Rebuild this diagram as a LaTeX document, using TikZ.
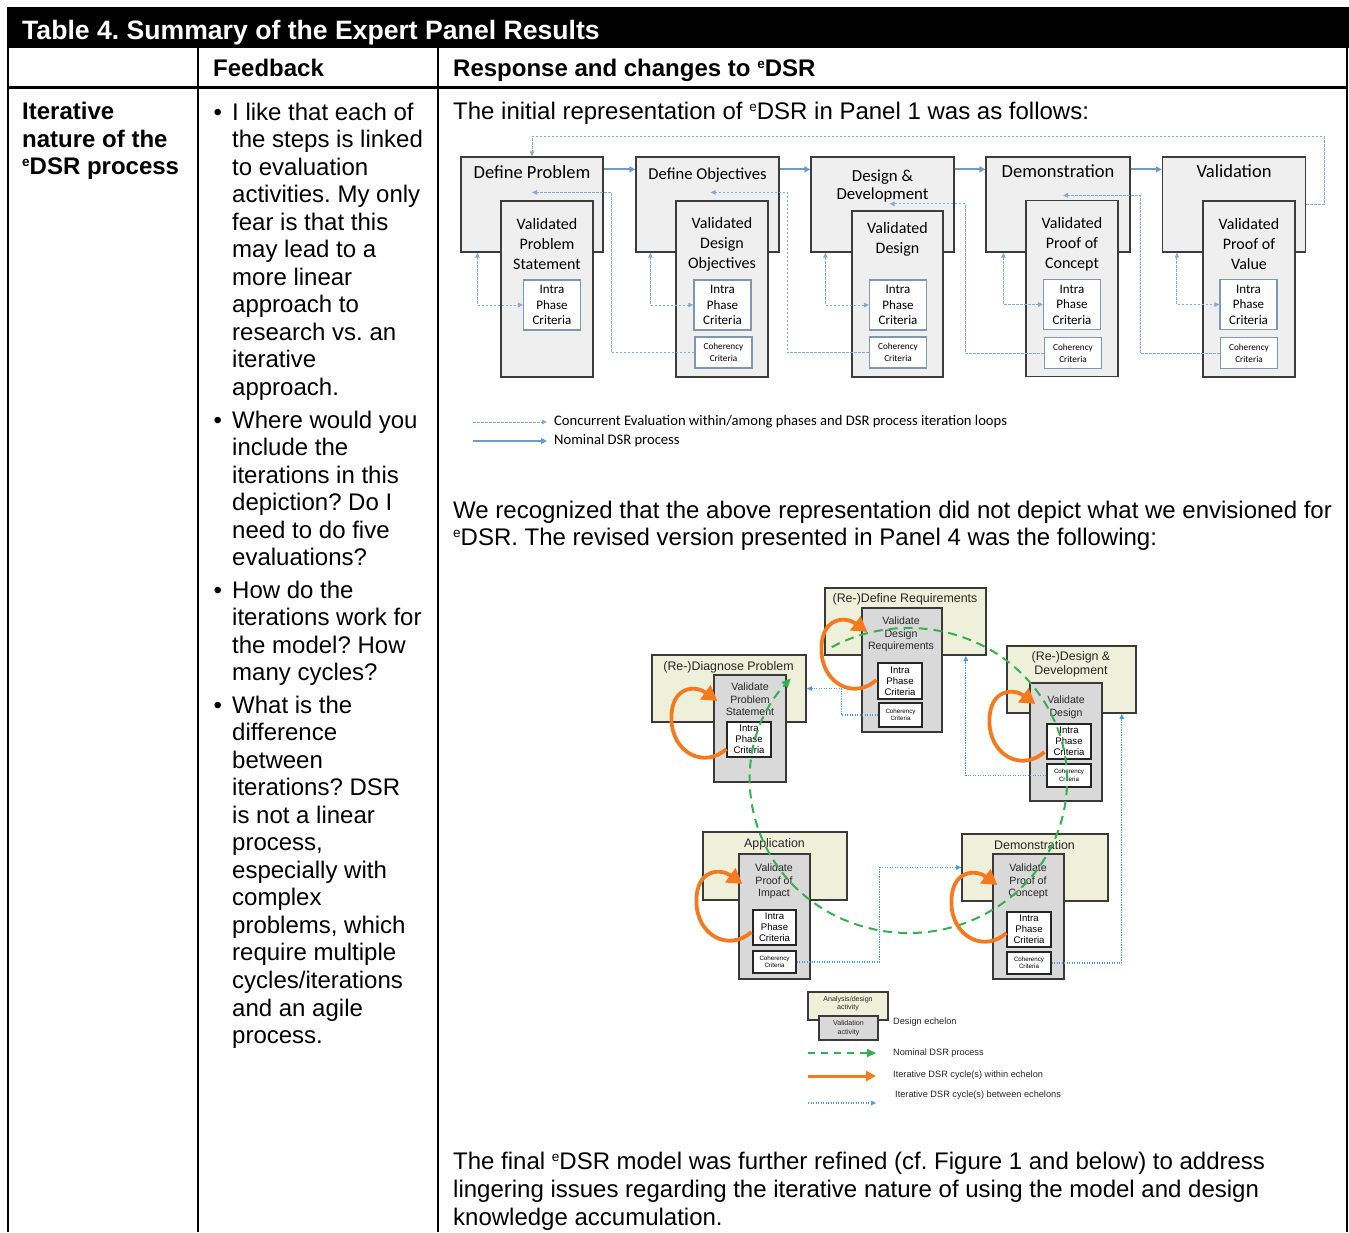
\documentclass[tikz,border=0pt]{standalone}
\usepackage{fontspec}
\setmainfont{Liberation Sans}
\newfontfamily\calfont{Carlito}
\usetikzlibrary{arrows.meta,calc}
\frenchspacing

\definecolor{tfill}{HTML}{EFEFEF}
\definecolor{tline}{HTML}{3C3C3C}
\definecolor{tcrit}{HTML}{7F97B2}
\definecolor{tblue}{HTML}{6E9BCB}
\definecolor{tdot}{HTML}{86AAD2}
\definecolor{efill}{HTML}{EEF0DA}
\definecolor{vfill}{HTML}{D9D9D9}
\definecolor{eline}{HTML}{3A3A3A}
\definecolor{ngreen}{HTML}{35B04C}
\definecolor{iorange}{HTML}{F57A1F}
\definecolor{bdotc}{HTML}{4A9FDC}

% small raised "e" of eDSR
\newcommand\esup{{\fontsize{13.5}{13.5}\selectfont\raisebox{8pt}{e}}}

\begin{document}
\begin{tikzpicture}[x=1pt,y=-1pt,
  body/.style={inner sep=0pt,anchor=base west,font=\fontsize{24}{27.55}\selectfont},
  bodyb/.style={inner sep=0pt,anchor=base west,font=\bfseries\fontsize{24}{27.55}\selectfont},
  rule/.style={line width=2pt,black},
  tbox/.style={draw=tline,fill=tfill,line width=1.3pt,inner sep=0pt},
  tcritb/.style={draw=tcrit,fill=white,line width=1.1pt,inner sep=0pt,align=center},
  ttl/.style={inner sep=0pt,align=center,font=\calfont\fontsize{18.5}{18.5}\selectfont},
  tval/.style={inner sep=0pt,align=center,font=\calfont\fontsize{16}{20}\selectfont},
  tintra/.style={tcritb,minimum width=57pt,minimum height=50pt,font=\calfont\fontsize{13}{15.5}\selectfont},
  tcoh/.style={tcritb,minimum width=57pt,minimum height=31pt,font=\calfont\fontsize{9.2}{12}\selectfont},
  tflow/.style={draw=tblue,line width=1.8pt,-{Triangle[length=6pt,width=6pt]}},
  tdash/.style={draw=tdot,line width=1pt,dash pattern=on 2.5pt off 1.5pt},
  tarr/.style={-{Triangle[length=5pt,width=4.5pt]}},
  tarrs/.style={{Triangle[length=5pt,width=4.5pt]}-{Triangle[length=5pt,width=4.5pt]}},
  tleg/.style={inner sep=0pt,anchor=west,font=\calfont\fontsize{14.6}{16}\selectfont},
  ebox/.style={draw=eline,fill=efill,line width=1.7pt,inner sep=0pt},
  vbox/.style={draw=eline,fill=vfill,line width=1.7pt,inner sep=0pt,align=center},
  etl/.style={inner sep=0pt,align=center,font=\fontsize{12.4}{14}\selectfont,text=black!85},
  eval/.style={inner sep=0pt,align=center,font=\fontsize{10.6}{12.5}\selectfont,text=black!85},
  lintra/.style={draw=black!85,fill=white,line width=1.2pt,inner sep=0pt,align=center,font=\fontsize{9.6}{11}\selectfont},
  lcoh/.style={lintra,font=\fontsize{6.2}{7.5}\selectfont},
  bdot/.style={draw=bdotc,line width=1.2pt,dash pattern=on 1.3pt off 1.2pt,-{Triangle[length=5pt,width=4.5pt]}},
  gdash/.style={draw=ngreen,line width=2pt,dash pattern=on 9pt off 6pt,-{Triangle[length=9pt,width=8pt]}},
  oloop/.style={draw=iorange,line width=3.8pt,-{Triangle[length=15pt,width=17pt]}},
  lleg/.style={inner sep=0pt,anchor=west,font=\fontsize{9.2}{11}\selectfont,text=black!85}
]
\useasboundingbox (0,0) rectangle (1349,1232);

% ---------- table frame ----------
\fill[black] (7,7) rectangle (1349,48);
\node[inner sep=0pt,anchor=base west,text=white,font=\bfseries\fontsize{26.6}{30}\selectfont] (title) at (22,39) {Table 4. Summary of the Expert Panel Results};
\draw[rule] (8,48) -- (8,1232);
\draw[rule] (198,48) -- (198,1232);
\draw[rule] (438,48) -- (438,1232);
\draw[rule] (1347,48) -- (1347,1232);
\draw[line width=3pt] (7,87.5) -- (1348,87.5);

\node[bodyb] (hfb) at (213,76) {Feedback};
\node[bodyb] (hrs) at (453,76) {Response and changes to \esup DSR};

\node[bodyb] (rl1) at (22,119) {Iterative};
\node[bodyb] (rl2) at (22,147) {nature of the};
\node[bodyb] (rl3) at (22,174) {\esup DSR process};

% ---------- feedback column ----------
\node[body] (bu1) at (213.5,120) {•};
\foreach \fl [count=\i from 0] in {{I like that each of},{the steps is linked},{to evaluation},{activities. My only},{fear is that this},{may lead to a},{more linear},{approach to},{research vs. an},{iterative},{approach.}}
  \node[body] (fa\i) at (232,120+27.55*\i) {\fl};
\node[body] (bu2) at (213.5,428) {•};
\foreach \fl [count=\i from 0] in {{Where would you},{include the},{iterations in this},{depiction? Do I},{need to do five},{evaluations?}}
  \node[body] (fb\i) at (232,428+27.55*\i) {\fl};
\node[body] (bu3) at (213.5,598) {•};
\foreach \fl [count=\i from 0] in {{How do the},{iterations work for},{the model? How},{many cycles?}}
  \node[body] (fc\i) at (232,598+27.55*\i) {\fl};
\node[body] (bu4) at (213.5,713) {•};
\foreach \fl [count=\i from 0] in {{What is the},{difference},{between},{iterations? DSR},{is not a linear},{process,},{especially with},{complex},{problems, which},{require multiple},{cycles/iterations},{and an agile},{process.}}
  \node[body] (fd\i) at (232,713+27.55*\i) {\fl};

% ---------- response column text ----------
\node[body] (r1) at (453,119) {The initial representation of \esup DSR in Panel 1 was as follows:};
\node[body] (r2) at (453,518) {We recognized that the above representation did not depict what we envisioned for};
\node[body] (r3) at (453,545) {\esup DSR. The revised version presented in Panel 4 was the following:};
\node[body] (r4) at (453,1169) {The final \esup DSR model was further refined (cf. Figure 1 and below) to address};
\node[body] (r5) at (453,1197) {lingering issues regarding the iterative nature of using the model and design};
\node[body] (r6) at (453,1225) {knowledge accumulation.};

% ---------- Panel 1: linear phases ----------
\node[tbox,minimum width=142pt,minimum height=95pt] (p1) at (532,204.5) {};
\node[tbox,minimum width=143pt,minimum height=95pt] (p2) at (707.5,204.5) {};
\node[tbox,minimum width=143pt,minimum height=95pt] (p3) at (882.5,204.5) {};
\node[tbox,minimum width=144pt,minimum height=95pt] (p4) at (1058,204.5) {};
\node[tbox,minimum width=143pt,minimum height=95pt] (p5) at (1234,204.5) {};

\node[ttl] (p1t) at (532,172) {Define Problem};
\node[ttl,font=\calfont\fontsize{16.6}{18.5}\selectfont] (p2t) at (707.5,175) {Define Objectives};
\node[ttl,font=\calfont\fontsize{16.8}{18.5}\selectfont] (p3t) at (882.5,186) {Design \&\\Development};
\node[ttl] (p4t) at (1058,171) {Demonstration};
\node[ttl] (p5t) at (1234,171) {Validation};

\node[tbox,minimum width=92pt,minimum height=176pt] (v1) at (547,289) {};
\node[tbox,minimum width=92pt,minimum height=176pt] (v2) at (722,289) {};
\node[tbox,minimum width=91pt,minimum height=166pt] (v3) at (897.5,294) {};
\node[tbox,minimum width=92pt,minimum height=176pt] (v4) at (1072,288.5) {};
\node[tbox,minimum width=92pt,minimum height=176pt] (v5) at (1249,289) {};

\node[tval] (v1t) at (547,244) {Validated\\Problem\\Statement};
\node[tval] (v2t) at (722,244) {Validated\\Design\\Objectives};
\node[tval] (v3t) at (897.5,239) {Validated\\Design};
\node[tval] (v4t) at (1072,244) {Validated\\Proof of\\Concept};
\node[tval] (v5t) at (1249,244) {Validated\\Proof of\\Value};

\node[tintra] (i1) at (552,305) {Intra\\Phase\\Criteria};
\node[tintra] (i2) at (722.5,305) {Intra\\Phase\\Criteria};
\node[tintra] (i3) at (898,305) {Intra\\Phase\\Criteria};
\node[tintra] (i4) at (1072,304.5) {Intra\\Phase\\Criteria};
\node[tintra] (i5) at (1248.5,304.5) {Intra\\Phase\\Criteria};

\node[tcoh] (c2) at (723.5,352.5) {Coherency\\Criteria};
\node[tcoh] (c3) at (898,352.5) {Coherency\\Criteria};
\node[tcoh] (c4) at (1073,353) {Coherency\\Criteria};
\node[tcoh] (c5) at (1249,353) {Coherency\\Criteria};

% nominal flow
\draw[tflow] ([yshift=-13pt]p1.north east) -- ([yshift=-13pt]p2.north west);
\draw[tflow] ([yshift=-13pt]p2.north east) -- ([yshift=-13pt]p3.north west);
\draw[tflow] ([yshift=-13pt]p3.north east) -- ([yshift=-13pt]p4.north west);
\draw[tflow] ([yshift=-13pt]p4.north east) -- ([yshift=-13pt]p5.north west);

% iteration loop back to the start
\draw[tdash,tarr] (p5.east) -- ++(18,0) |- ($(p1.north)+(0,-20)$) -- (p1.north);

% intra-phase evaluation
\draw[tdash,tarrs] ($(p1.south west)+(17,0)$) |- (i1.west);
\draw[tdash,tarrs] ($(p2.south west)+(15,0)$) |- (i2.west);
\draw[tdash,tarrs] ($(p3.south west)+(15,0)$) |- (i3.west);
\draw[tdash,tarrs] ($(p4.south west)+(18,0)$) |- (i4.west);
\draw[tdash,tarrs] ($(p5.south west)+(15,0)$) |- (i5.west);

% coherency feedback to the previous phase
\draw[tdash,tarr] (c2.west) -- ++(-83,0) |- ($(p1.north)+(0,36)$);
\draw[tdash,tarr] (c3.west) -- ++(-81.5,0) |- ($(p2.north)+(3,36)$);
\draw[tdash,tarr] (c4.west) -- ++(-78.5,0) |- ($(p3.north)+(7,47.5)$);
\draw[tdash,tarr] (c5.west) -- ++(-79.5,0) |- ($(p4.north)+(5,39)$);

% legend
\coordinate (la1) at (473,422);
\coordinate (la2) at (547,422);
\draw[tdash,tarr] (la1) -- (la2);
\node[tleg] (lat) at (554,422) {Concurrent Evaluation within/among phases and DSR process iteration loops};
\coordinate (lb1) at (473,441);
\coordinate (lb2) at (547,441);
\draw[tflow,line width=1.5pt] (lb1) -- (lb2);
\node[tleg] (lbt) at (554,441) {Nominal DSR process};

% ---------- Panel 4: design echelons ----------
\node[ebox,minimum width=161pt,minimum height=67pt] (e1) at (905.5,621.5) {};
\node[ebox,minimum width=154pt,minimum height=67pt] (e2) at (729,688.5) {};
\node[ebox,minimum width=129pt,minimum height=67pt] (e3) at (1071.5,679.5) {};
\node[ebox,minimum width=144pt,minimum height=68pt] (e4) at (775,866) {};
\node[ebox,minimum width=146pt,minimum height=67pt] (e5) at (1035,867.5) {};

\node[etl] (e1t) at (905,599) {(Re-)Define Requirements};
\node[etl] (e2t) at (728.5,667) {(Re-)Diagnose Problem};
\node[etl] (e3t) at (1071,664) {(Re-)Design \&\\Development};
\node[etl] (e4t) at (774.5,844) {Application};
\node[etl] (e5t) at (1034.5,845) {Demonstration};

\node[vbox,minimum width=80pt,minimum height=124pt] (w1) at (902,670) {};
\node[vbox,minimum width=72pt,minimum height=107pt] (w2) at (750,728.5) {};
\node[vbox,minimum width=72pt,minimum height=118pt] (w3) at (1066,742) {};
\node[vbox,minimum width=71pt,minimum height=125pt] (w4) at (774.5,916.5) {};
\node[vbox,minimum width=71pt,minimum height=125pt] (w5) at (1028.5,916.5) {};

\node[eval] (w1t) at (901,634.5) {Validate\\Design\\Requirements};
\node[eval] (w2t) at (750,699.5) {Validate\\Problem\\Statement};
\node[eval] (w3t) at (1066,707) {Validate\\Design};
\node[eval] (w4t) at (774,881.5) {Validate\\Proof of\\Impact};
\node[eval] (w5t) at (1028,881.5) {Validate\\Proof of\\Concept};

\node[lintra,minimum width=44pt,minimum height=36pt] (li1) at (900,681) {Intra\\Phase\\Criteria};
\node[lintra,minimum width=44pt,minimum height=35pt] (li2) at (749,739.5) {Intra\\Phase\\Criteria};
\node[lintra,minimum width=44pt,minimum height=35pt] (li3) at (1069,741.5) {Intra\\Phase\\Criteria};
\node[lintra,minimum width=43pt,minimum height=35pt] (li4) at (774.5,927.5) {Intra\\Phase\\Criteria};
\node[lintra,minimum width=44pt,minimum height=35pt] (li5) at (1029,929.5) {Intra\\Phase\\Criteria};

\node[lcoh,minimum width=43pt,minimum height=24pt] (lc1) at (900.5,715) {Coherency\\Criteria};
\node[lcoh,minimum width=44pt,minimum height=23pt] (lc3) at (1069,775.5) {Coherency\\Criteria};
\node[lcoh,minimum width=43pt,minimum height=22pt] (lc4) at (774.5,962) {Coherency\\Criteria};
\node[lcoh,minimum width=44pt,minimum height=22pt] (lc5) at (1029,963) {Coherency\\Criteria};

% iterations between echelons
\draw[bdot] (lc1.west) -- ++(-37,0) |- (e2.east);
\draw[bdot] (lc3.west) -| ($(e1.south east)+(-21,0)$);
\draw[bdot] (lc5.east) -| ($(e3.south east)+(-15,0)$);
\draw[bdot] (lc4.east) -- ++(83,0) |- (e5.west);

% nominal process around the echelons
\coordinate (gc) at (908.5,780.5);
\draw[gdash] ($(gc)+(-76.8,-133.4)$) arc[start angle=119,end angle=-222,x radius=158.5pt,y radius=152.5pt];

% iterations within each echelon
\draw[oloop] ($(li1.west)+(-1,-1)$) .. controls +(-22,20) and +(0,35) .. ++(-55,-31) .. controls +(0,-32) and +(-22,-16) .. ++(46,-17);
\draw[oloop] ($(li2.west)+(0,9.5)$) .. controls +(-22,20) and +(0,35) .. ++(-55,-31) .. controls +(0,-32) and +(-22,-16) .. ++(46,-17);
\draw[oloop] ($(li3.west)+(-2,10.5)$) .. controls +(-22,20) and +(0,35) .. ++(-55,-31) .. controls +(0,-32) and +(-22,-16) .. ++(46,-17);
\draw[oloop] ($(li4.west)+(-1,4.5)$) .. controls +(-22,20) and +(0,35) .. ++(-55,-31) .. controls +(0,-32) and +(-22,-16) .. ++(46,-17);
\draw[oloop] ($(li5.west)+(0,3.5)$) .. controls +(-22,20) and +(0,35) .. ++(-55,-31) .. controls +(0,-32) and +(-22,-16) .. ++(46,-17);

% legend
\node[ebox,minimum width=80pt,minimum height=28pt] (lg1) at (848,1006) {};
\node[inner sep=0pt,align=center,font=\fontsize{7.1}{8}\selectfont,text=black!85] (lg1t) at (848,1003.5) {Analysis/design\\activity};
\node[vbox,minimum width=59pt,minimum height=24pt,font=\fontsize{7.1}{8.5}\selectfont,text=black!85] (lg2) at (848.5,1028) {Validation\\activity};
\node[lleg] (lg2t) at (893,1022) {Design echelon};

\coordinate (lgA) at (808,1053);
\coordinate (lgB) at (876,1053);
\draw[gdash,line width=1.8pt,dash pattern=on 7pt off 6pt] (lgA) -- (lgB);
\node[lleg] (lgAt) at (893,1053) {Nominal DSR process};

\coordinate (lgC) at (808,1076);
\coordinate (lgD) at (876,1076);
\draw[draw=iorange,line width=3pt,-{Triangle[length=10pt,width=10pt]}] (lgC) -- (lgD);
\node[lleg] (lgCt) at (893,1075) {Iterative DSR cycle(s) within echelon};

\coordinate (lgE) at (808,1103);
\coordinate (lgF) at (876,1103);
\draw[bdot] (lgE) -- (lgF);
\node[lleg] (lgEt) at (895,1095) {Iterative DSR cycle(s) between echelons};

\end{tikzpicture}
\end{document}
